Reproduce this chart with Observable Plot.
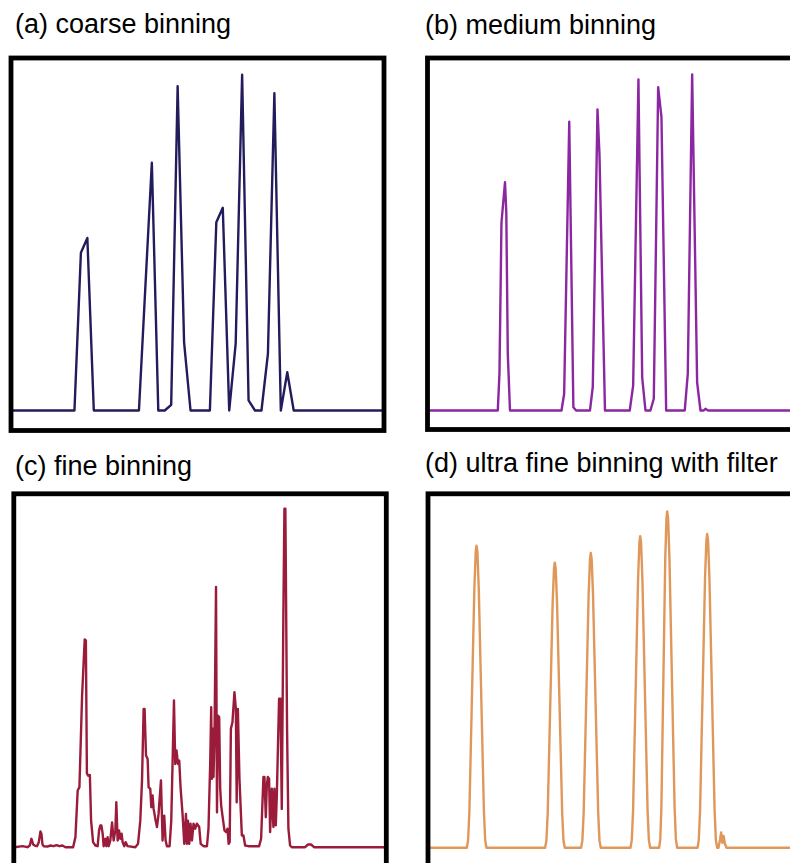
<!DOCTYPE html>
<html><head><meta charset="utf-8">
<script src="https://cdn.jsdelivr.net/npm/d3@7"></script>
<script src="https://cdn.jsdelivr.net/npm/@observablehq/plot@0.6"></script>
<style>
html,body{margin:0;padding:0;background:#fff;}
body{width:790px;height:863px;overflow:hidden;position:relative;font-family:"Liberation Sans",Arial,Helvetica,sans-serif;}
.title{position:absolute;font-size:27px;line-height:27px;color:#000;white-space:nowrap;}
</style></head><body>
<script>
// ---- titles ----
const titles = ["(a) coarse binning", "(b) medium binning", "(c) fine binning", "(d) ultra fine binning with filter"];
const colors = ["#231c5c", "#8b28a1", "#9b1b3b", "#e0975a"];

// ---- (a) coarse binning: one value per bin, bins -1..57 ----
const coarseX = d3.range(-1, 58);
const coarseY = [0,0,0,0,0,0,0,0,0,0,0,
  47,51.4,0,0,0,0,0,0,0,0,
  37,73.8,0,0,1.7,96.6,20.3,0,0,0,0,
  56.1,60.4,0,19.9,100,3,0,0,16.9,94.5,0,11.4,0,
  0,0,0,0,0,0,0,0,0,0,0,0,0,0];

// ---- (b) medium binning ----
const mediumX = [-1, 10.06,10.32,10.63,11.18,11.38,11.61,11.95,
  19.94,20.35,21.14,21.78,22.21,
  24.35,24.79,25.52,25.83,26.68,
  30.52,31.05,31.87,32.45,32.96,
  33.73,34.25,34.93,35.44,36.17,
  39.05,39.52,40.20,40.97,41.49,
  42.0,42.26,42.68, 58];
const mediumY = [0, 0,11,56,68,59,17,0,
  0,5,86,1,0,
  0,7,89.7,76,0,
  0,7.4,98.6,9.9,0,
  0,3.5,96.3,87.4,0,
  0,10.9,100.1,8.4,0,
  0,0.5,0, 0];

// ---- (c) fine binning ----
const fineX = [-1,-0.73,0.51,1.28,1.64,1.90,2.17,2.48,2.76,3.04,3.30,3.45,3.61,3.81,4.38,4.85,5.32,5.78,6.25,6.71,7.18,
  8.37,8.73,9.08,9.35,9.76,10.17,10.35,10.51,10.71,10.97,11.16,11.47,11.83,
  12.18,12.40,12.60,12.76,12.96,13.11,13.38,13.53,13.73,13.89,14.15,14.42,14.66,14.93,15.08,15.28,15.50,15.70,15.90,16.06,16.32,16.52,16.83,
  18.03,18.45,18.80,19.07,19.32,19.47,19.69,19.94,20.09,20.35,20.51,20.71,20.87,21.13,21.39,21.64,22.01,22.26,22.52,22.73,22.94,
  23.35,23.61,23.81,24.03,24.23,24.43,24.65,24.85,25.05,25.36,25.63,25.89,26.04,26.20,26.40,26.60,26.82,27.07,27.33,27.59,27.95,28.18,28.62,
  29.15,29.39,29.66,29.81,29.92,30.08,30.17,30.32,30.56,30.71,30.87,31.05,31.21,31.36,31.56,31.87,32.14,32.34,32.52,32.68,
  32.87,33.11,33.42,33.64,33.77,33.95,34.20,34.57,34.82,35.08,35.59,
  37.25,37.56,37.92,38.08,38.29,38.45,38.60,38.80,38.96,39.22,39.47,39.63,39.84,40.00,40.35,40.56,40.77,41.02,41.18,41.33,41.59,41.80,42.06,42.32,
  44.39,44.85,45.32,45.78,58];
const fineY = [0,0,0.3,0,0.5,2.5,0.8,0.4,0.3,1.5,4.7,4.0,0.8,0.3,0.2,0.5,0.3,0.6,0.3,0.5,0,
  0,3,16.9,17.9,45,61.9,61.6,22,21.3,21.5,8,1.5,0.5,
  0.3,5,6.5,6.5,4,0.3,2.5,0.3,3,0.3,2,7.4,2,5,13.4,2,5,2.5,4,1.5,0.3,1.5,0.3,
  0,1,7.9,19.9,41.2,41.2,27.3,26.3,17.9,17.4,11.9,15.4,11.4,8.5,6.0,9.9,19.9,2,9.4,2,0.3,
  0.3,7.9,24.8,43.7,24.8,28.8,24.8,25.8,17.9,9.9,1,9.9,1,7.9,1,7,2,7,5.5,7,6,1,0.3,
  0.3,5.5,25.3,41.7,20.4,35.3,20.9,32.3,77.5,10.4,39.2,38.7,17.4,12.4,9.4,5,4.5,5.5,1,1.5,
  35.3,37.2,46.2,41.2,13.4,41.2,20.4,3.5,3.5,0.5,0.3,
  0.3,2.5,20.9,20.9,8.9,18.4,20.9,20.4,4.5,17.4,6,17.4,6.5,15.4,44.2,44.2,11.4,70,100.8,100.8,35.3,5.5,0.5,0,
  0,0.8,0.8,0,0];

// ---- (d) ultra fine binning with filter ----
const filterX = [-1,
  5.18,5.38,5.58,6.35,6.56,6.68,6.82,7.03,7.83,8.03,8.23,
  17.32,17.52,17.72,18.49,18.70,18.82,18.96,19.17,19.97,20.17,20.37,
  22.90,23.10,23.30,24.07,24.28,24.40,24.54,24.75,25.55,25.75,25.95,
  30.56,30.76,30.96,31.73,31.94,32.06,32.20,32.41,33.21,33.41,33.61,
  35.0,35.18,35.35,35.95,36.14,36.25,36.39,36.60,37.40,37.60,37.80,
  40.95,41.15,41.35,42.12,42.33,42.45,42.59,42.80,43.60,43.80,44.0,
  44.2,44.45,44.62,44.8,45.0,45.2,45.45,
  58];
const filterY = [0,
  0,2.3,10.8,77.4,88.2,90.0,88.2,77.4,10.8,2.3,0,
  0,2.1,10.2,73.0,83.2,84.9,83.2,73.0,10.2,2.1,0,
  0,2.2,10.5,75.5,86.0,87.8,86.0,75.5,10.5,2.2,0,
  0,2.3,11.1,79.8,90.9,92.8,90.9,79.8,11.1,2.3,0,
  0,2.5,12.0,86.2,98.2,100.2,98.2,86.2,12.0,2.5,0,
  0,2.3,11.2,80.4,91.6,93.5,91.6,80.4,11.2,2.3,0,
  0,2.5,4.6,1.5,3.5,1.2,0,
  0];

// ---- layout (positions / sizes only) ----
const panels = [
  {xs: coarseX, ys: coarseY, left: 0,   top: 45,  w: 395, h: 395, ml: 10.5, mr: 11.5, mt: 12.5, mb: 10,  yd: [-5.96, 105.0], tl: 15,  tt: 11},
  {xs: mediumX, ys: mediumY, left: 415, top: 45,  w: 400, h: 395, ml: 12,   mr: 15,   mt: 12.5, mb: 11,  yd: [-5.66, 105.0], tl: 425, tt: 11.5},
  {xs: fineX,   ys: fineY,   left: 0,   top: 480, w: 395, h: 400, ml: 13.3, mr: 9.2,  mt: 13.3, mb: 13,  yd: [-6.05, 105.27], tl: 15, tt: 452.5},
  {xs: filterX, ys: filterY, left: 415, top: 480, w: 400, h: 400, ml: 12.5, mr: 14.5, mt: 13.3, mb: 13,  yd: [-5.87, 105.45], tl: 425, tt: 449.5}
];

panels.forEach((p, i) => {
  const data = p.xs.map((u, j) => ({u, v: p.ys[j]}));
  const svg = Plot.plot({
    width: p.w, height: p.h,
    marginLeft: p.ml, marginRight: p.mr, marginTop: p.mt, marginBottom: p.mb,
    x: {domain: [-0.84, 57.0], axis: null},
    y: {domain: p.yd, axis: null},
    marks: [
      Plot.line(data, {x: "u", y: "v", stroke: colors[i], strokeWidth: 2.4, clip: true}),
      Plot.frame({stroke: "black", strokeWidth: 4.8})
    ]
  });
  svg.style.position = "absolute";
  svg.style.left = p.left + "px";
  svg.style.top = p.top + "px";
  svg.style.maxWidth = "none";
  svg.style.background = "transparent";
  document.body.appendChild(svg);
});

panels.forEach((p, i) => {
  const t = document.createElement("div");
  t.className = "title";
  t.textContent = titles[i];
  t.style.left = p.tl + "px";
  t.style.top = p.tt + "px";
  document.body.appendChild(t);
});
</script></body></html>
